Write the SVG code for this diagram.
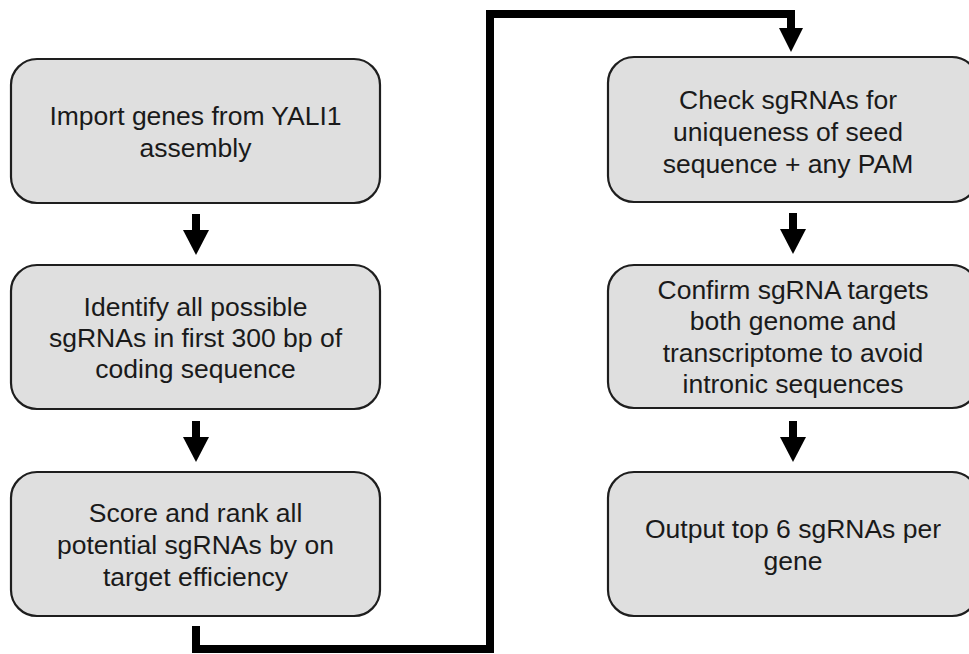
<svg xmlns="http://www.w3.org/2000/svg" width="969" height="654" viewBox="0 0 969 654">
<style>
.box{fill:#dfdfdf;stroke:#1e1e1e;stroke-width:2.2}
.t{font-family:"Liberation Sans",Arial,sans-serif;font-size:26.5px;fill:#1a1a1a;text-anchor:middle}
.conn{fill:none;stroke:#000;stroke-width:8;stroke-linejoin:miter}
.head{fill:#000}
</style>
<rect width="969" height="654" fill="#fff"/>
<g id="n1"><rect class="box" x="11" y="59" width="369" height="144" rx="26"/>
<text class="t" x="195.5"><tspan x="195.5" y="125">Import genes from YALI1</tspan><tspan x="195.5" y="157">assembly</tspan></text></g>
<g id="n2"><rect class="box" x="11" y="265" width="369" height="144" rx="26"/>
<text class="t"><tspan x="195.5" y="316">Identify all possible</tspan><tspan x="195.5" y="347">sgRNAs in first 300 bp of</tspan><tspan x="195.5" y="378">coding sequence</tspan></text></g>
<g id="n3"><rect class="box" x="11" y="472" width="369" height="144" rx="26"/>
<text class="t"><tspan x="195.5" y="522">Score and rank all</tspan><tspan x="195.5" y="554">potential sgRNAs by on</tspan><tspan x="195.5" y="586">target efficiency</tspan></text></g>
<g id="n4"><rect class="box" x="608" y="57" width="370" height="145" rx="26"/>
<text class="t"><tspan x="788" y="109">Check sgRNAs for</tspan><tspan x="788" y="141">uniqueness of seed</tspan><tspan x="788" y="173">sequence + any PAM</tspan></text></g>
<g id="n5"><rect class="box" x="608" y="265" width="370" height="143" rx="26"/>
<text class="t"><tspan x="793" y="299">Confirm sgRNA targets</tspan><tspan x="793" y="330">both genome and</tspan><tspan x="793" y="362">transcriptome to avoid</tspan><tspan x="793" y="393">intronic sequences</tspan></text></g>
<g id="n6"><rect class="box" x="608" y="472" width="370" height="144" rx="26"/>
<text class="t"><tspan x="793" y="538">Output top 6 sgRNAs per</tspan><tspan x="793" y="570">gene</tspan></text></g>
<g id="connectors">
<rect class="head" x="192" y="214" width="8" height="18"/><polygon class="head" points="183,230 209,230 196,255"/>
<rect class="head" x="192" y="421" width="8" height="18"/><polygon class="head" points="183,437 209,437 196,462"/>
<rect class="head" x="789" y="213" width="8" height="18"/><polygon class="head" points="780,229 806,229 793,254"/>
<rect class="head" x="789" y="421" width="8" height="18"/><polygon class="head" points="780,437 806,437 793,462"/>
<path class="conn" d="M196,626 V649 H490 V14 H791 V30"/>
<polygon class="head" points="779,28 803,28 791,52"/>
</g>
</svg>
